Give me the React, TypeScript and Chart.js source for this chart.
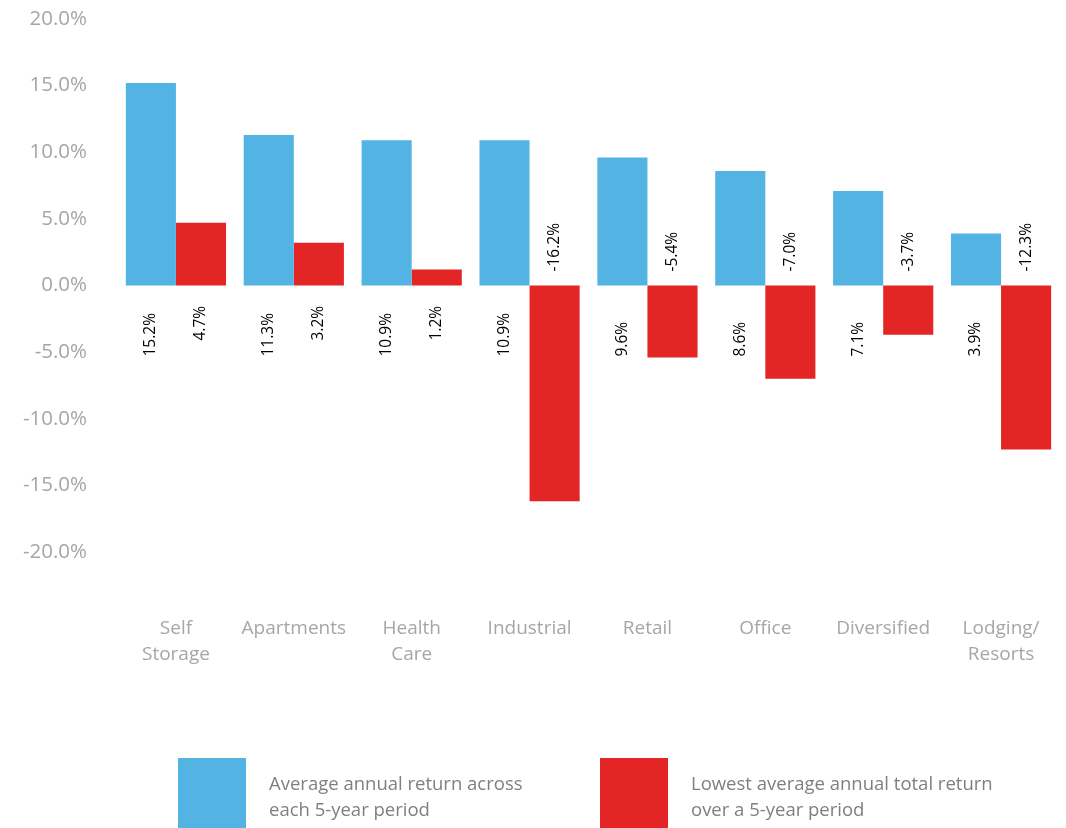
import React, { useEffect, useRef } from "react";
import { Chart, registerables } from "chart.js";

Chart.register(...registerables);

const categories: (string | string[])[] = [
  ["Self", "Storage"],
  "Apartments",
  ["Health", "Care"],
  "Industrial",
  "Retail",
  "Office",
  "Diversified",
  ["Lodging/", "Resorts"],
];
const averageReturn = [15.2, 11.3, 10.9, 10.9, 9.6, 8.6, 7.1, 3.9];
const lowestReturn = [4.7, 3.2, 1.2, -16.2, -5.4, -7.0, -3.7, -12.3];
const seriesNames = [
  ["Average annual return across", "each 5-year period"],
  ["Lowest average annual total return", "over a 5-year period"],
];
const yTicks = { min: -20, max: 20, step: 5 };

const BLUE = "#53B4E4";
const RED = "#E32526";
const FONT = "'Open Sans', sans-serif";

const labelPlugin = {
  id: "rotLabels",
  afterDatasetsDraw(chart: any) {
    const ctx = chart.ctx;
    const zeroY = chart.scales.y.getPixelForValue(0);
    chart.data.datasets.forEach((ds: any, di: number) => {
      const meta = chart.getDatasetMeta(di);
      meta.data.forEach((bar: any, i: number) => {
        const v = ds.data[i] as number;
        const txt = v.toFixed(1) + "%";
        const start = v >= 0 ? zeroY + (di === 0 ? 71 : 55) : zeroY - 14;
        ctx.save();
        ctx.translate(bar.x, start);
        ctx.rotate(-Math.PI / 2);
        ctx.font = `15.5px ${FONT}`;
        ctx.fillStyle = "#000000";
        ctx.textAlign = "left";
        ctx.textBaseline = "middle";
        ctx.fillText(txt, 0, 0);
        ctx.restore();
      });
    });
  },
};

export default function App() {
  const ref = useRef<HTMLCanvasElement>(null);
  useEffect(() => {
    if (!ref.current) return;
    const chart = new Chart(ref.current, {
      type: "bar",
      data: {
        labels: categories as any,
        datasets: [
          {
            label: seriesNames[0].join(" "),
            data: averageReturn,
            backgroundColor: BLUE,
            borderWidth: 0,
            categoryPercentage: 0.85,
            barPercentage: 1,
          },
          {
            label: seriesNames[1].join(" "),
            data: lowestReturn,
            backgroundColor: RED,
            borderWidth: 0,
            categoryPercentage: 0.85,
            barPercentage: 1,
          },
        ],
      },
      options: {
        animation: false,
        responsive: false,
        devicePixelRatio: 1,
        layout: { padding: { top: 19, right: 6, bottom: 0, left: 0 } },
        plugins: { legend: { display: false }, tooltip: { enabled: false } },
        scales: {
          x: {
            grid: { display: false },
            border: { display: false },
            ticks: {
              color: "#a6a6a6",
              font: { family: FONT, size: 19, lineHeight: 26 / 19 },
              padding: 56,
              maxRotation: 0,
              autoSkip: false,
            },
            afterFit: (s: any) => {
              s.height = 276;
              s.paddingLeft = 0;
              s.paddingRight = 0;
            },
          },
          y: {
            min: yTicks.min,
            max: yTicks.max,
            grid: { display: false },
            border: { display: false },
            ticks: {
              stepSize: yTicks.step,
              color: "#a6a6a6",
              font: { family: FONT, size: 20.5 },
              padding: 22,
              callback: (v: any) => Number(v).toFixed(1) + "%",
            },
            afterFit: (s: any) => {
              s.width = 117;
              s.paddingTop = 0;
              s.paddingBottom = 0;
            },
          },
        },
      },
      plugins: [labelPlugin],
    });
    return () => chart.destroy();
  }, []);

  const legendText: React.CSSProperties = {
    position: "absolute",
    top: 770,
    fontFamily: FONT,
    fontSize: 18.5,
    lineHeight: "26px",
    color: "#7f7f7f",
    whiteSpace: "nowrap",
  };

  return (
    <div
      style={{
        position: "absolute",
        left: 0,
        top: 0,
        width: 1066,
        height: 828,
        overflow: "hidden",
        background: "#ffffff",
      }}
    >
      <canvas ref={ref} width={1066} height={828} style={{ display: "block" }} />
      <div style={{ position: "absolute", left: 178, top: 758, width: 68, height: 80, background: BLUE }} />
      <div style={{ ...legendText, left: 269 }}>
        {seriesNames[0][0]}
        <br />
        {seriesNames[0][1]}
      </div>
      <div style={{ position: "absolute", left: 600, top: 758, width: 68, height: 80, background: RED }} />
      <div style={{ ...legendText, left: 691 }}>
        {seriesNames[1][0]}
        <br />
        {seriesNames[1][1]}
      </div>
    </div>
  );
}
